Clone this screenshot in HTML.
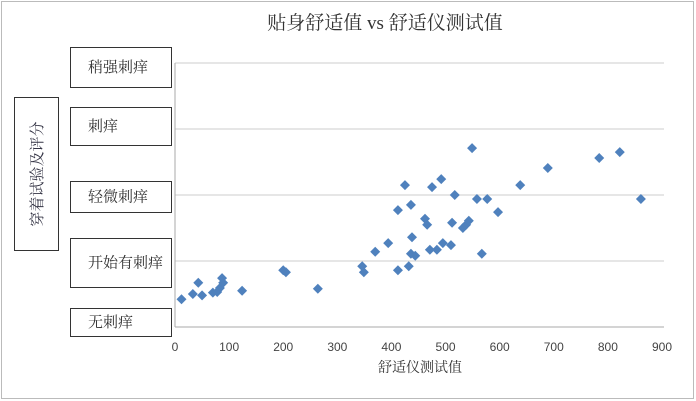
<!DOCTYPE html>
<html><head><meta charset="utf-8"><style>
body{margin:0;background:#fff}
svg{display:block;font-family:"Liberation Serif","Noto Serif CJK SC",serif}
</style></head><body>
<svg width="696" height="401">
<rect x="1.5" y="1.5" width="692" height="397" fill="#fff" stroke="#bbb"/>
<text x="385" y="29" text-anchor="middle" font-size="19" fill="#333">贴身舒适值 vs 舒适仪测试值</text>
<g id="grid"></g>
<g id="xticks" font-size="12" fill="#444" font-family="Liberation Sans,sans-serif"></g>
<g id="pts"></g>
<text x="420" y="372" text-anchor="middle" font-size="14" fill="#333">舒适仪测试值</text>
<g>
<rect x="14.5" y="97.5" width="44" height="153" fill="#fff" stroke="#333"/>
<text transform="translate(42,174) rotate(-90)" text-anchor="middle" font-size="15" fill="#334">穿着试验及评分</text>
</g>
<g id="cats" font-size="15" fill="#333"></g>
</svg>
<script>
const xs=[12,33,43,50,70,78,83,87,89,124,200,205,264,346,349,370,394,412,412,425,432,436,438,436,444,462,466,471,475,484,492,495,510,512,517,532,538,543,549,558,567,577,597,638,689,784,822,861];
const ys=[0.42,0.50,0.67,0.48,0.52,0.53,0.59,0.74,0.67,0.55,0.86,0.83,0.58,0.92,0.83,1.14,1.27,0.86,1.77,2.15,0.92,1.85,1.36,1.11,1.08,1.64,1.55,1.17,2.12,1.17,2.24,1.27,1.24,1.58,2.0,1.50,1.55,1.61,2.71,1.94,1.11,1.94,1.74,2.15,2.41,2.56,2.65,1.94];
const xTicks=[0,100,200,300,400,500,600,700,800,900];
const yLevels=[0,1,2,3,4];
const catLabels=["无刺痒","开始有刺痒","轻微刺痒","刺痒","稍强刺痒"];
const X=v=>175+v*(662-175)/900, Y=v=>327-v*66;
const NS="http://www.w3.org/2000/svg";
const mk=(t,a,p)=>{const e=document.createElementNS(NS,t);for(const k in a)e.setAttribute(k,a[k]);p.appendChild(e);return e;};
const grid=document.getElementById('grid');
yLevels.forEach(v=>{const l=mk('line',{x1:175,x2:664,y1:Y(v),y2:Y(v),stroke:v?'#ccc':'#aaa'},grid);

});
const ax=mk('line',{x1:175,x2:175,y1:Y(4),y2:Y(0),stroke:'#aaa'},grid);


const xt=document.getElementById('xticks');
xTicks.forEach(v=>{const t=mk('text',{x:X(v),y:351,'text-anchor':'middle'},xt);t.textContent=v;

});
const boxes=[[308,336],[238,287],[181,212],[107,145],[47,87]];
const cats=document.getElementById('cats');
catLabels.forEach((s,i)=>{const g=mk('g',{},cats);


const [a,b]=boxes[i];
mk('rect',{x:70.5,y:a+.5,width:101,height:b-a,fill:'#fff',stroke:'#333'},g);
const t=mk('text',{x:88,y:(a+b)/2+5},g);t.textContent=s;});
const pts=document.getElementById('pts');
xs.forEach((x,i)=>{const cx=X(x),cy=Y(ys[i]);
const p=mk('polygon',{points:`${cx},${cy-5} ${cx+5},${cy} ${cx},${cy+5} ${cx-5},${cy}`,fill:'#4f81bd'},pts);

});
</script>
</body></html>
